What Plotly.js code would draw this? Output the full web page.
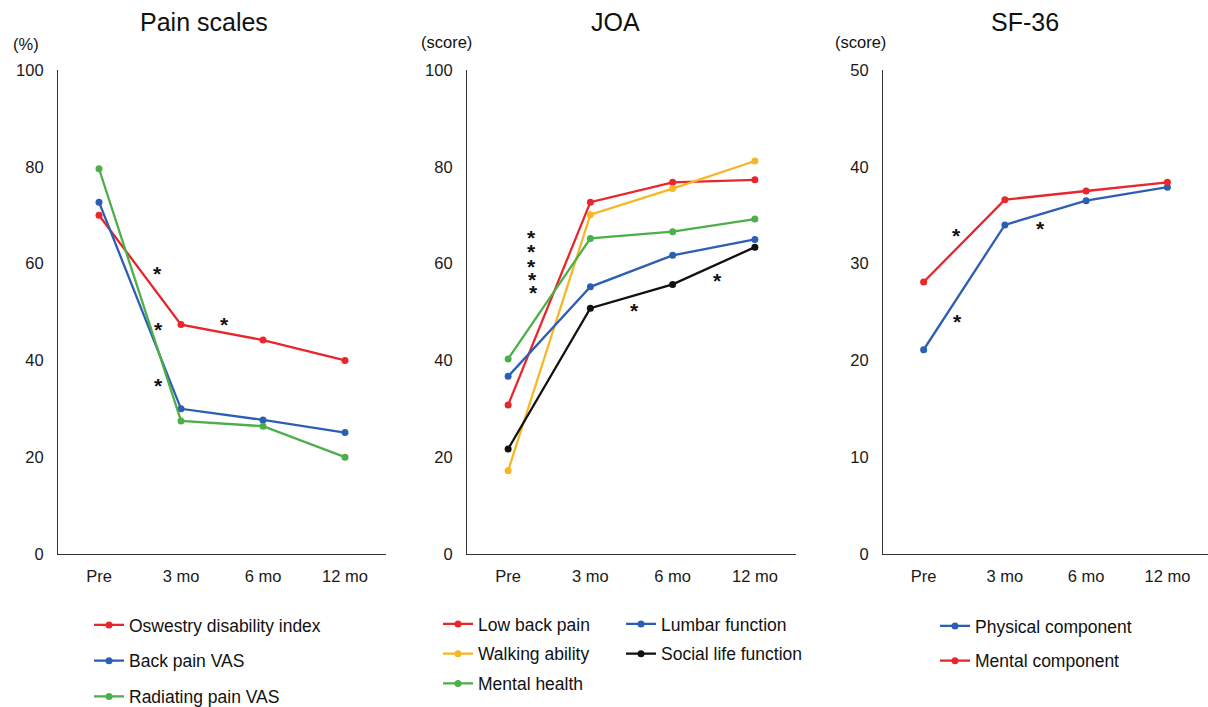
<!DOCTYPE html>
<html>
<head>
<meta charset="utf-8">
<script src="https://cdn.plot.ly/plotly-3.0.1.min.js"></script>
<style>html,body{margin:0;padding:0;background:#fff;}#chart{width:1208px;height:707px;}</style>
</head>
<body>
<div id="chart"></div>
<script>
// ---- data ----
const categories = ['Pre', '3 mo', '6 mo', '12 mo'];

// Pain scales (%)
const odi      = [70.0, 47.4, 44.2, 40.0];
const backVas  = [72.7, 30.0, 27.7, 25.1];
const radVas   = [79.6, 27.5, 26.4, 20.0];

// JOA (score)
const lowBack  = [30.8, 72.7, 76.8, 77.3];
const walking  = [17.2, 70.1, 75.5, 81.2];
const mentalH  = [40.3, 65.2, 66.6, 69.2];
const lumbar   = [36.7, 55.2, 61.7, 65.0];
const social   = [21.7, 50.8, 55.7, 63.4];

// SF-36 (score)
const physical = [21.1, 34.0, 36.5, 37.9];
const mentalC  = [28.1, 36.6, 37.5, 38.4];

const painTicks = [0, 20, 40, 60, 80, 100];
const joaTicks  = [0, 20, 40, 60, 80, 100];
const sfTicks   = [0, 10, 20, 30, 40, 50];

// significance markers: [category index, value]
const painStars = [[0.71, 58.3], [0.72, 46.9], [0.72, 35.3], [1.53, 47.9]];
const joaStars  = [[0.28, 65.9], [0.28, 63.0], [0.29, 59.9], [0.30, 57.2], [0.31, 54.5], [1.54, 50.8], [2.54, 57.0]];
const sfStars   = [[0.41, 33.1], [0.42, 24.2], [1.44, 33.8]];

// ---- styling ----
const FONT = '"Liberation Sans", Arial, Helvetica, sans-serif';
const RED = '#E8262B', BLUE = '#2C5FB3', GREEN = '#4DAF4A', YELLOW = '#F8B626', BLACK = '#111111';

const W = 1208, H = 707, T = 70, B = 153;
const plotH = H - T - B;
const px = v => v / W;
const py = v => (H - B - v) / plotH;
const cy = v => 1 - v / H;

function tr(name, y, color, xa, ya, legend) {
  return {
    type: 'scatter', mode: 'lines+markers', name: name,
    x: categories, y: y, xaxis: xa, yaxis: ya,
    legend: legend, legendgroup: name,
    line: {color: color, width: 2.3},
    marker: {color: color, size: 7},
    hoverinfo: 'x+y+name'
  };
}

const data = [
  tr('Oswestry disability index', odi, RED, 'x', 'y', 'legend'),
  tr('Back pain VAS', backVas, BLUE, 'x', 'y', 'legend'),
  tr('Radiating pain VAS', radVas, GREEN, 'x', 'y', 'legend'),
  tr('Low back pain', lowBack, RED, 'x2', 'y2', 'legend2'),
  tr('Walking ability', walking, YELLOW, 'x2', 'y2', 'legend2'),
  tr('Mental health', mentalH, GREEN, 'x2', 'y2', 'legend2'),
  tr('Lumbar function', lumbar, BLUE, 'x2', 'y2', 'legend3'),
  tr('Social life function', social, BLACK, 'x2', 'y2', 'legend3'),
  tr('Physical component', physical, BLUE, 'x3', 'y3', 'legend4'),
  tr('Mental component', mentalC, RED, 'x3', 'y3', 'legend4')
];

function xAxis(d0, d1, anchor) {
  return {
    domain: [px(d0), px(d1)], anchor: anchor, type: 'category',
    categoryorder: 'array', categoryarray: categories,
    range: [-0.5, 3.5], showgrid: false, zeroline: false,
    showline: true, linecolor: '#333', linewidth: 1.2, ticks: '',
    tickfont: {family: FONT, size: 16.5, color: '#1a1a1a'},
    ticklabelstandoff: 7, fixedrange: true
  };
}
function yAxis(anchor, max, ticks) {
  return {
    anchor: anchor, domain: [0, 1], range: [0, max],
    tickvals: ticks, showgrid: false, zeroline: false,
    showline: true, linecolor: '#333', linewidth: 1.2, ticks: '',
    tickfont: {family: FONT, size: 16.5, color: '#1a1a1a'},
    ticklabelstandoff: 10, fixedrange: true
  };
}

const annotations = [];
function txt(x, y, text, size) {
  annotations.push({xref: 'paper', yref: 'paper', x: px(x), y: py(y), text: text,
    showarrow: false, xanchor: 'center', yanchor: 'middle',
    font: {family: FONT, size: size, color: '#111'}});
}
txt(204, 22, 'Pain scales', 25);
txt(615, 22, 'JOA', 25);
txt(1025, 22, 'SF-36', 25);
txt(26, 44, '(%)', 16.5);
txt(446, 42, '(score)', 16.5);
txt(861, 42, '(score)', 16.5);

function stars(list, xa, ya) {
  list.forEach(s => annotations.push({
    xref: xa, yref: ya, x: s[0], y: s[1], text: '*', showarrow: false,
    xanchor: 'center', yanchor: 'middle', yshift: -2,
    font: {family: FONT, size: 21, weight: 'bold', color: '#111'}
  }));
}
stars(painStars, 'x', 'y');
stars(joaStars, 'x2', 'y2');
stars(sfStars, 'x3', 'y3');

function leg(x, y, gap) {
  return {
    xref: 'container', yref: 'container', x: px(x), y: cy(y),
    xanchor: 'left', yanchor: 'top', orientation: 'v',
    traceorder: 'grouped', tracegroupgap: gap, itemwidth: 30,
    bgcolor: 'rgba(0,0,0,0)', borderwidth: 0,
    font: {family: FONT, size: 17.5, color: '#111'}
  };
}

const layout = {
  width: W, height: H,
  margin: {l: 0, r: 0, t: T, b: B, autoexpand: false},
  paper_bgcolor: '#fff', plot_bgcolor: '#fff',
  showlegend: true,
  xaxis: xAxis(58, 386, 'y'),
  yaxis: yAxis('x', 100, painTicks),
  xaxis2: xAxis(467, 796, 'y2'),
  yaxis2: yAxis('x2', 100, joaTicks),
  xaxis3: xAxis(883, 1208, 'y3'),
  yaxis3: yAxis('x3', 50, sfTicks),
  legend: leg(89, 607, 10),
  legend2: leg(438, 606, 4),
  legend3: leg(621, 606, 4),
  legend4: leg(935, 608, 9),
  annotations: annotations,
  hovermode: 'closest'
};

Plotly.newPlot('chart', data, layout, {displayModeBar: false, responsive: false});
</script>
</body>
</html>
